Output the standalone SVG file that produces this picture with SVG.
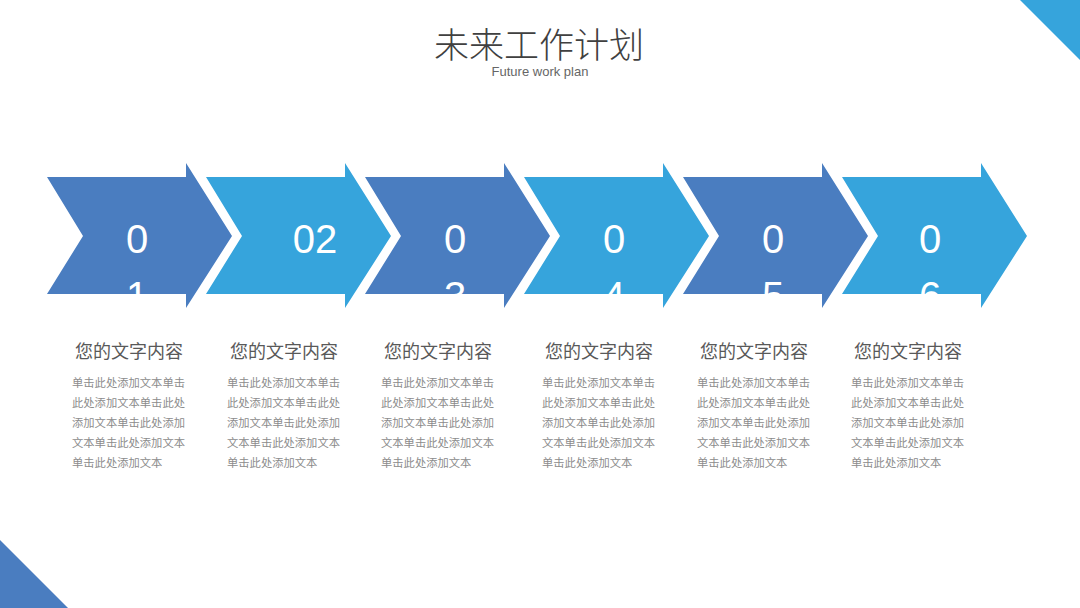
<svg xmlns="http://www.w3.org/2000/svg" width="1080" height="608" viewBox="0 0 1080 608">
<defs>
<style>
.d{fill:#4A7DC0}.l{fill:#36A4DC}
.n{font-family:"Liberation Sans","Noto Sans",sans-serif;font-size:40px;fill:#fff;font-weight:300;text-anchor:middle}
.t{font-family:"Noto Sans CJK SC",sans-serif;font-size:18px;fill:#595959}
.b{font-family:"Noto Sans CJK SC",sans-serif;font-size:11.3px;fill:#8c8c8c}
</style>
<path id="ar" d="M0,14 H139 V0 L185,73 L139,145 V131 H0 L36,73 Z"/>
<clipPath id="c"><rect x="0" y="163" width="1080" height="135"/></clipPath>
</defs>
<rect width="1080" height="608" fill="#fff"/>
<polygon points="1020,0 1080,0 1080,60" fill="#36A4DC"/>
<polygon points="0,540 0,608 68,608" fill="#4A7DC0"/>
<text x="539" y="58" text-anchor="middle" font-family="Noto Sans CJK SC,sans-serif" font-size="35" font-weight="300" fill="#404040">未来工作计划</text>
<text x="540" y="76" text-anchor="middle" font-family="Liberation Sans,sans-serif" font-size="13" fill="#666">Future work plan</text>
<g id="arrows">
<g id="n1"><use href="#ar" x="47" y="163" class="d"/><g clip-path="url(#c)"><text class="n" x="137" y="253">0</text><text class="n" x="137" y="310">1</text></g></g>
<g id="n2"><use href="#ar" x="206" y="163" class="l"/><text class="n" x="315" y="253">02</text></g>
<g id="n3"><use href="#ar" x="365" y="163" class="d"/><g clip-path="url(#c)"><text class="n" x="455" y="253">0</text><text class="n" x="455" y="310">3</text></g></g>
<g id="n4"><use href="#ar" x="524" y="163" class="l"/><g clip-path="url(#c)"><text class="n" x="614" y="253">0</text><text class="n" x="614" y="310">4</text></g></g>
<g id="n5"><use href="#ar" x="683" y="163" class="d"/><g clip-path="url(#c)"><text class="n" x="773" y="253">0</text><text class="n" x="773" y="310">5</text></g></g>
<g id="n6"><use href="#ar" x="842" y="163" class="l"/><g clip-path="url(#c)"><text class="n" x="930" y="253">0</text><text class="n" x="930" y="310">6</text></g></g>
</g>
<g id="texts">
<g id="t1"><text class="t" x="75" y="358">您的文字内容</text><text class="b"><tspan x="72" y="387">单击此处添加文本单击</tspan><tspan x="72" y="407">此处添加文本单击此处</tspan><tspan x="72" y="427">添加文本单击此处添加</tspan><tspan x="72" y="447">文本单击此处添加文本</tspan><tspan x="72" y="467">单击此处添加文本</tspan></text></g>
<g id="t2"><text class="t" x="230" y="358">您的文字内容</text><text class="b"><tspan x="227" y="387">单击此处添加文本单击</tspan><tspan x="227" y="407">此处添加文本单击此处</tspan><tspan x="227" y="427">添加文本单击此处添加</tspan><tspan x="227" y="447">文本单击此处添加文本</tspan><tspan x="227" y="467">单击此处添加文本</tspan></text></g>
<g id="t3"><text class="t" x="384" y="358">您的文字内容</text><text class="b"><tspan x="381" y="387">单击此处添加文本单击</tspan><tspan x="381" y="407">此处添加文本单击此处</tspan><tspan x="381" y="427">添加文本单击此处添加</tspan><tspan x="381" y="447">文本单击此处添加文本</tspan><tspan x="381" y="467">单击此处添加文本</tspan></text></g>
<g id="t4"><text class="t" x="545" y="358">您的文字内容</text><text class="b"><tspan x="542" y="387">单击此处添加文本单击</tspan><tspan x="542" y="407">此处添加文本单击此处</tspan><tspan x="542" y="427">添加文本单击此处添加</tspan><tspan x="542" y="447">文本单击此处添加文本</tspan><tspan x="542" y="467">单击此处添加文本</tspan></text></g>
<g id="t5"><text class="t" x="700" y="358">您的文字内容</text><text class="b"><tspan x="697" y="387">单击此处添加文本单击</tspan><tspan x="697" y="407">此处添加文本单击此处</tspan><tspan x="697" y="427">添加文本单击此处添加</tspan><tspan x="697" y="447">文本单击此处添加文本</tspan><tspan x="697" y="467">单击此处添加文本</tspan></text></g>
<g id="t6"><text class="t" x="854" y="358">您的文字内容</text><text class="b"><tspan x="851" y="387">单击此处添加文本单击</tspan><tspan x="851" y="407">此处添加文本单击此处</tspan><tspan x="851" y="427">添加文本单击此处添加</tspan><tspan x="851" y="447">文本单击此处添加文本</tspan><tspan x="851" y="467">单击此处添加文本</tspan></text></g>
</g>
</svg>
